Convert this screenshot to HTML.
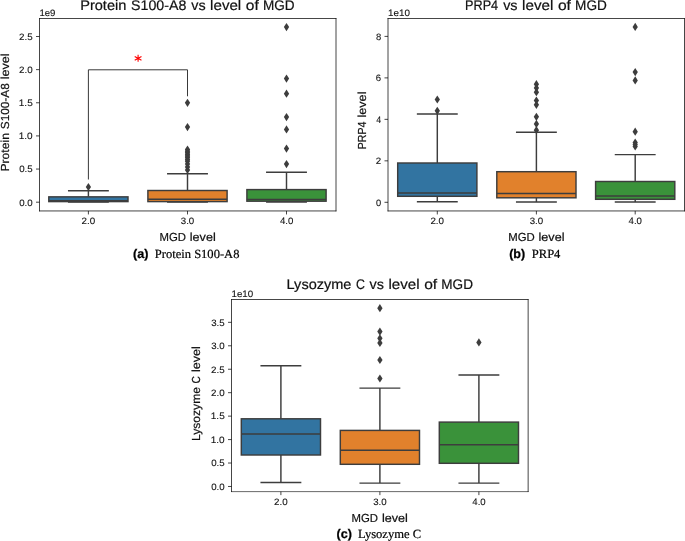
<!DOCTYPE html>
<html><head><meta charset="utf-8"><title>Figure</title>
<style>html,body{margin:0;padding:0;background:#fff;}svg{display:block;will-change:transform;}text{text-rendering:geometricPrecision;}</style></head><body>
<svg width="685" height="541" viewBox="0 0 685 541">
<rect width="685" height="541" fill="#fff"/>
<path d="M39.5 211.32999999999998V18.12" stroke="#0a0a0a" stroke-width="0.76"/>
<path d="M39.12 18.5H336.38" stroke="#0a0a0a" stroke-width="0.76"/>
<path d="M336.0 18.12V211.32999999999998" stroke="#0a0a0a" stroke-width="0.76"/>
<path d="M39.12 210.95H336.38" stroke="#0a0a0a" stroke-width="0.76"/>
<path d="M36.0 202.20H39.5" stroke="#0a0a0a" stroke-width="0.76"/>
<text x="19.19" y="205.55" font-family="Liberation Sans" font-size="9.33" fill="#111" textLength="13.50" lengthAdjust="spacingAndGlyphs" stroke="#111" stroke-width="0.1">0.0</text>
<path d="M36.0 169.06H39.5" stroke="#0a0a0a" stroke-width="0.76"/>
<text x="19.19" y="172.41" font-family="Liberation Sans" font-size="9.33" fill="#111" textLength="13.53" lengthAdjust="spacingAndGlyphs" stroke="#111" stroke-width="0.1">0.5</text>
<path d="M36.0 135.92H39.5" stroke="#0a0a0a" stroke-width="0.76"/>
<text x="18.78" y="139.27" font-family="Liberation Sans" font-size="9.33" fill="#111" textLength="13.92" lengthAdjust="spacingAndGlyphs" stroke="#111" stroke-width="0.1">1.0</text>
<path d="M36.0 102.78H39.5" stroke="#0a0a0a" stroke-width="0.76"/>
<text x="18.78" y="106.13" font-family="Liberation Sans" font-size="9.33" fill="#111" textLength="13.96" lengthAdjust="spacingAndGlyphs" stroke="#111" stroke-width="0.1">1.5</text>
<path d="M36.0 69.64H39.5" stroke="#0a0a0a" stroke-width="0.76"/>
<text x="19.06" y="72.99" font-family="Liberation Sans" font-size="9.33" fill="#111" textLength="13.63" lengthAdjust="spacingAndGlyphs" stroke="#111" stroke-width="0.1">2.0</text>
<path d="M36.0 36.50H39.5" stroke="#0a0a0a" stroke-width="0.76"/>
<text x="19.06" y="39.85" font-family="Liberation Sans" font-size="9.33" fill="#111" textLength="13.67" lengthAdjust="spacingAndGlyphs" stroke="#111" stroke-width="0.1">2.5</text>
<path d="M88.4 210.95V214.45" stroke="#0a0a0a" stroke-width="0.76"/>
<text x="81.53" y="224.35" font-family="Liberation Sans" font-size="9.33" fill="#111" textLength="13.63" lengthAdjust="spacingAndGlyphs" stroke="#111" stroke-width="0.1">2.0</text>
<path d="M187.5 210.95V214.45" stroke="#0a0a0a" stroke-width="0.76"/>
<text x="180.77" y="224.35" font-family="Liberation Sans" font-size="9.33" fill="#111" textLength="13.50" lengthAdjust="spacingAndGlyphs" stroke="#111" stroke-width="0.1">3.0</text>
<path d="M286.5 210.95V214.45" stroke="#0a0a0a" stroke-width="0.76"/>
<text x="279.90" y="224.35" font-family="Liberation Sans" font-size="9.33" fill="#111" textLength="13.36" lengthAdjust="spacingAndGlyphs" stroke="#111" stroke-width="0.1">4.0</text>
<text x="39.41" y="15.85" font-family="Liberation Sans" font-size="9.33" fill="#111" textLength="16.07" lengthAdjust="spacingAndGlyphs" stroke="#111" stroke-width="0.1">1e9</text>
<text x="80.18" y="9.80" font-family="Liberation Sans" font-size="13.99" fill="#111" textLength="46.21" lengthAdjust="spacingAndGlyphs" stroke="#111" stroke-width="0.2">Protein</text>
<text x="131.07" y="9.80" font-family="Liberation Sans" font-size="13.99" fill="#111" textLength="55.32" lengthAdjust="spacingAndGlyphs" stroke="#111" stroke-width="0.2">S100-A8</text>
<text x="191.25" y="9.80" font-family="Liberation Sans" font-size="13.99" fill="#111" textLength="14.34" lengthAdjust="spacingAndGlyphs" stroke="#111" stroke-width="0.2">vs</text>
<text x="210.13" y="9.80" font-family="Liberation Sans" font-size="13.99" fill="#111" textLength="31.11" lengthAdjust="spacingAndGlyphs" stroke="#111" stroke-width="0.2">level</text>
<text x="245.80" y="9.80" font-family="Liberation Sans" font-size="13.99" fill="#111" textLength="12.98" lengthAdjust="spacingAndGlyphs" stroke="#111" stroke-width="0.2">of</text>
<text x="262.93" y="9.80" font-family="Liberation Sans" font-size="13.99" fill="#111" textLength="31.64" lengthAdjust="spacingAndGlyphs" stroke="#111" stroke-width="0.2">MGD</text>
<text x="159.44" y="241.10" font-family="Liberation Sans" font-size="11.66" fill="#111" textLength="26.48" lengthAdjust="spacingAndGlyphs" stroke="#111" stroke-width="0.2">MGD</text>
<text x="189.76" y="241.10" font-family="Liberation Sans" font-size="11.66" fill="#111" textLength="26.03" lengthAdjust="spacingAndGlyphs" stroke="#111" stroke-width="0.2">level</text>
<text x="8.87" y="171.52" font-family="Liberation Sans" font-size="11.66" fill="#111" textLength="38.42" lengthAdjust="spacingAndGlyphs" transform="rotate(-90 8.87 171.52)" stroke="#111" stroke-width="0.2">Protein</text>
<text x="8.87" y="129.21" font-family="Liberation Sans" font-size="11.66" fill="#111" textLength="45.99" lengthAdjust="spacingAndGlyphs" transform="rotate(-90 8.87 129.21)" stroke="#111" stroke-width="0.2">S100-A8</text>
<text x="8.87" y="79.27" font-family="Liberation Sans" font-size="11.66" fill="#111" textLength="25.86" lengthAdjust="spacingAndGlyphs" transform="rotate(-90 8.87 79.27)" stroke="#111" stroke-width="0.2">level</text>
<path d="M88.4 179.5V69.8H187.5V96.3" stroke="#222" stroke-width="0.9" fill="none"/>
<path d="M138.10 54.85L138.10 61.85M134.72 56.40L141.48 60.30M141.48 56.40L134.72 60.30" stroke="#f00" stroke-width="1.1" fill="none"/>
<path d="M88.4 196.85V190.75M88.4 201.6V202.0M67.95 190.75H108.85M67.95 202.0H108.85" stroke="#3d3d3d" stroke-width="1.45" fill="none"/>
<rect x="48.80" y="196.85" width="79.20" height="4.75" fill="#3274a1" stroke="#3d3d3d" stroke-width="1.45"/>
<path d="M48.80 200.65H128.00" stroke="#3d3d3d" stroke-width="1.45"/>
<path d="M88.4 182.90L91.05 187.0L88.4 191.10L85.75 187.0Z" fill="#3d3d3d"/>
<path d="M187.5 190.5V173.8M187.5 201.6V202.0M167.05 173.8H207.95M167.05 202.0H207.95" stroke="#3d3d3d" stroke-width="1.45" fill="none"/>
<rect x="147.90" y="190.5" width="79.20" height="11.10" fill="#e1812c" stroke="#3d3d3d" stroke-width="1.45"/>
<path d="M147.90 199.2H227.10" stroke="#3d3d3d" stroke-width="1.45"/>
<path d="M187.5 98.70L190.15 102.8L187.5 106.90L184.85 102.8Z" fill="#3d3d3d"/>
<path d="M187.5 123.00L190.15 127.1L187.5 131.20L184.85 127.1Z" fill="#3d3d3d"/>
<path d="M187.5 145.50L190.15 149.6L187.5 153.70L184.85 149.6Z" fill="#3d3d3d"/>
<path d="M187.5 147.10L190.15 151.2L187.5 155.30L184.85 151.2Z" fill="#3d3d3d"/>
<path d="M187.5 148.70L190.15 152.8L187.5 156.90L184.85 152.8Z" fill="#3d3d3d"/>
<path d="M187.5 150.30L190.15 154.4L187.5 158.50L184.85 154.4Z" fill="#3d3d3d"/>
<path d="M187.5 151.90L190.15 156L187.5 160.10L184.85 156Z" fill="#3d3d3d"/>
<path d="M187.5 153.50L190.15 157.6L187.5 161.70L184.85 157.6Z" fill="#3d3d3d"/>
<path d="M187.5 155.40L190.15 159.5L187.5 163.60L184.85 159.5Z" fill="#3d3d3d"/>
<path d="M187.5 157.10L190.15 161.2L187.5 165.30L184.85 161.2Z" fill="#3d3d3d"/>
<path d="M187.5 159.90L190.15 164.0L187.5 168.10L184.85 164.0Z" fill="#3d3d3d"/>
<path d="M187.5 162.80L190.15 166.9L187.5 171.00L184.85 166.9Z" fill="#3d3d3d"/>
<path d="M187.5 165.90L190.15 170.0L187.5 174.10L184.85 170.0Z" fill="#3d3d3d"/>
<path d="M286.5 189.6V172.3M286.5 201.2V202.0M266.05 172.3H306.95M266.05 202.0H306.95" stroke="#3d3d3d" stroke-width="1.45" fill="none"/>
<rect x="246.90" y="189.6" width="79.20" height="11.60" fill="#3a923a" stroke="#3d3d3d" stroke-width="1.45"/>
<path d="M246.90 199.55H326.10" stroke="#3d3d3d" stroke-width="1.45"/>
<path d="M286.5 23.00L289.15 27.1L286.5 31.20L283.85 27.1Z" fill="#3d3d3d"/>
<path d="M286.5 74.50L289.15 78.6L286.5 82.70L283.85 78.6Z" fill="#3d3d3d"/>
<path d="M286.5 89.60L289.15 93.7L286.5 97.80L283.85 93.7Z" fill="#3d3d3d"/>
<path d="M286.5 113.00L289.15 117.1L286.5 121.20L283.85 117.1Z" fill="#3d3d3d"/>
<path d="M286.5 125.30L289.15 129.4L286.5 133.50L283.85 129.4Z" fill="#3d3d3d"/>
<path d="M286.5 144.50L289.15 148.6L286.5 152.70L283.85 148.6Z" fill="#3d3d3d"/>
<path d="M286.5 160.00L289.15 164.1L286.5 168.20L283.85 164.1Z" fill="#3d3d3d"/>
<text x="133.10" y="257.50" font-family="Liberation Sans" font-size="12.6" fill="#000" font-weight="bold" textLength="15.40" lengthAdjust="spacingAndGlyphs" stroke="#000" stroke-width="0.25">(a)</text>
<text x="154.80" y="257.50" font-family="Liberation Serif" font-size="12.5" fill="#000" textLength="84.60" lengthAdjust="spacingAndGlyphs" stroke="#000" stroke-width="0.2">Protein S100-A8</text>
<path d="M388.0 211.32999999999998V18.12" stroke="#0a0a0a" stroke-width="0.76"/>
<path d="M387.62 18.5H684.88" stroke="#0a0a0a" stroke-width="0.76"/>
<path d="M684.5 18.12V211.32999999999998" stroke="#0a0a0a" stroke-width="0.76"/>
<path d="M387.62 210.95H684.88" stroke="#0a0a0a" stroke-width="0.76"/>
<path d="M384.5 202.30H388.0" stroke="#0a0a0a" stroke-width="0.76"/>
<text x="376.01" y="205.65" font-family="Liberation Sans" font-size="9.33" fill="#111" textLength="5.16" lengthAdjust="spacingAndGlyphs" stroke="#111" stroke-width="0.1">0</text>
<path d="M384.5 160.83H388.0" stroke="#0a0a0a" stroke-width="0.76"/>
<text x="375.86" y="164.18" font-family="Liberation Sans" font-size="9.33" fill="#111" textLength="5.42" lengthAdjust="spacingAndGlyphs" stroke="#111" stroke-width="0.1">2</text>
<path d="M384.5 119.35H388.0" stroke="#0a0a0a" stroke-width="0.76"/>
<text x="376.14" y="122.70" font-family="Liberation Sans" font-size="9.33" fill="#111" textLength="4.92" lengthAdjust="spacingAndGlyphs" stroke="#111" stroke-width="0.1">4</text>
<path d="M384.5 77.88H388.0" stroke="#0a0a0a" stroke-width="0.76"/>
<text x="375.87" y="81.22" font-family="Liberation Sans" font-size="9.33" fill="#111" textLength="5.34" lengthAdjust="spacingAndGlyphs" stroke="#111" stroke-width="0.1">6</text>
<path d="M384.5 36.40H388.0" stroke="#0a0a0a" stroke-width="0.76"/>
<text x="375.94" y="39.75" font-family="Liberation Sans" font-size="9.33" fill="#111" textLength="5.27" lengthAdjust="spacingAndGlyphs" stroke="#111" stroke-width="0.1">8</text>
<path d="M437.3 210.95V214.45" stroke="#0a0a0a" stroke-width="0.76"/>
<text x="430.43" y="224.35" font-family="Liberation Sans" font-size="9.33" fill="#111" textLength="13.63" lengthAdjust="spacingAndGlyphs" stroke="#111" stroke-width="0.1">2.0</text>
<path d="M536.4 210.95V214.45" stroke="#0a0a0a" stroke-width="0.76"/>
<text x="529.67" y="224.35" font-family="Liberation Sans" font-size="9.33" fill="#111" textLength="13.50" lengthAdjust="spacingAndGlyphs" stroke="#111" stroke-width="0.1">3.0</text>
<path d="M635.2 210.95V214.45" stroke="#0a0a0a" stroke-width="0.76"/>
<text x="628.60" y="224.35" font-family="Liberation Sans" font-size="9.33" fill="#111" textLength="13.36" lengthAdjust="spacingAndGlyphs" stroke="#111" stroke-width="0.1">4.0</text>
<text x="388.09" y="15.85" font-family="Liberation Sans" font-size="9.33" fill="#111" textLength="21.93" lengthAdjust="spacingAndGlyphs" stroke="#111" stroke-width="0.1">1e10</text>
<text x="465.03" y="9.80" font-family="Liberation Sans" font-size="13.99" fill="#111" textLength="33.16" lengthAdjust="spacingAndGlyphs" stroke="#111" stroke-width="0.2">PRP4</text>
<text x="503.17" y="9.80" font-family="Liberation Sans" font-size="13.99" fill="#111" textLength="14.40" lengthAdjust="spacingAndGlyphs" stroke="#111" stroke-width="0.2">vs</text>
<text x="522.13" y="9.80" font-family="Liberation Sans" font-size="13.99" fill="#111" textLength="31.22" lengthAdjust="spacingAndGlyphs" stroke="#111" stroke-width="0.2">level</text>
<text x="557.92" y="9.80" font-family="Liberation Sans" font-size="13.99" fill="#111" textLength="13.03" lengthAdjust="spacingAndGlyphs" stroke="#111" stroke-width="0.2">of</text>
<text x="575.12" y="9.80" font-family="Liberation Sans" font-size="13.99" fill="#111" textLength="31.76" lengthAdjust="spacingAndGlyphs" stroke="#111" stroke-width="0.2">MGD</text>
<text x="508.19" y="241.10" font-family="Liberation Sans" font-size="11.66" fill="#111" textLength="26.48" lengthAdjust="spacingAndGlyphs" stroke="#111" stroke-width="0.2">MGD</text>
<text x="538.51" y="241.10" font-family="Liberation Sans" font-size="11.66" fill="#111" textLength="26.03" lengthAdjust="spacingAndGlyphs" stroke="#111" stroke-width="0.2">level</text>
<text x="366.20" y="149.30" font-family="Liberation Sans" font-size="11.66" fill="#111" textLength="27.67" lengthAdjust="spacingAndGlyphs" transform="rotate(-90 366.20 149.30)" stroke="#111" stroke-width="0.2">PRP4</text>
<text x="366.20" y="117.56" font-family="Liberation Sans" font-size="11.66" fill="#111" textLength="26.06" lengthAdjust="spacingAndGlyphs" transform="rotate(-90 366.20 117.56)" stroke="#111" stroke-width="0.2">level</text>
<path d="M437.3 163.0V114.0M437.3 196.3V201.8M416.85 114.0H457.75M416.85 201.8H457.75" stroke="#3d3d3d" stroke-width="1.45" fill="none"/>
<rect x="397.70" y="163.0" width="79.20" height="33.30" fill="#3274a1" stroke="#3d3d3d" stroke-width="1.45"/>
<path d="M397.70 193.0H476.90" stroke="#3d3d3d" stroke-width="1.45"/>
<path d="M437.3 95.40L439.95 99.5L437.3 103.60L434.65 99.5Z" fill="#3d3d3d"/>
<path d="M437.3 106.70L439.95 110.8L437.3 114.90L434.65 110.8Z" fill="#3d3d3d"/>
<path d="M536.4 171.7V132.2M536.4 197.8V201.9M515.95 132.2H556.85M515.95 201.9H556.85" stroke="#3d3d3d" stroke-width="1.45" fill="none"/>
<rect x="496.80" y="171.7" width="79.20" height="26.10" fill="#e1812c" stroke="#3d3d3d" stroke-width="1.45"/>
<path d="M496.80 193.5H576.00" stroke="#3d3d3d" stroke-width="1.45"/>
<path d="M536.4 80.10L539.05 84.2L536.4 88.30L533.75 84.2Z" fill="#3d3d3d"/>
<path d="M536.4 83.80L539.05 87.9L536.4 92.00L533.75 87.9Z" fill="#3d3d3d"/>
<path d="M536.4 88.10L539.05 92.2L536.4 96.30L533.75 92.2Z" fill="#3d3d3d"/>
<path d="M536.4 96.40L539.05 100.5L536.4 104.60L533.75 100.5Z" fill="#3d3d3d"/>
<path d="M536.4 100.70L539.05 104.8L536.4 108.90L533.75 104.8Z" fill="#3d3d3d"/>
<path d="M536.4 112.70L539.05 116.8L536.4 120.90L533.75 116.8Z" fill="#3d3d3d"/>
<path d="M536.4 119.80L539.05 123.9L536.4 128.00L533.75 123.9Z" fill="#3d3d3d"/>
<path d="M536.4 126.10L539.05 130.2L536.4 134.30L533.75 130.2Z" fill="#3d3d3d"/>
<path d="M635.2 181.5V154.6M635.2 199.3V201.9M614.75 154.6H655.65M614.75 201.9H655.65" stroke="#3d3d3d" stroke-width="1.45" fill="none"/>
<rect x="595.60" y="181.5" width="79.20" height="17.80" fill="#3a923a" stroke="#3d3d3d" stroke-width="1.45"/>
<path d="M595.60 195.9H674.80" stroke="#3d3d3d" stroke-width="1.45"/>
<path d="M635.2 22.80L637.85 26.9L635.2 31.00L632.55 26.9Z" fill="#3d3d3d"/>
<path d="M635.2 68.00L637.85 72.1L635.2 76.20L632.55 72.1Z" fill="#3d3d3d"/>
<path d="M635.2 76.30L637.85 80.4L635.2 84.50L632.55 80.4Z" fill="#3d3d3d"/>
<path d="M635.2 127.60L637.85 131.7L635.2 135.80L632.55 131.7Z" fill="#3d3d3d"/>
<path d="M635.2 138.40L637.85 142.5L635.2 146.60L632.55 142.5Z" fill="#3d3d3d"/>
<path d="M635.2 140.40L637.85 144.5L635.2 148.60L632.55 144.5Z" fill="#3d3d3d"/>
<path d="M635.2 142.40L637.85 146.5L635.2 150.60L632.55 146.5Z" fill="#3d3d3d"/>
<text x="509.20" y="257.50" font-family="Liberation Sans" font-size="12.6" fill="#000" font-weight="bold" textLength="16.00" lengthAdjust="spacingAndGlyphs" stroke="#000" stroke-width="0.25">(b)</text>
<text x="531.80" y="257.50" font-family="Liberation Serif" font-size="12.5" fill="#000" textLength="28.60" lengthAdjust="spacingAndGlyphs" stroke="#000" stroke-width="0.2">PRP4</text>
<path d="M231.5 492.0V299.12" stroke="#0a0a0a" stroke-width="0.76"/>
<path d="M231.12 299.5H528.53" stroke="#0a0a0a" stroke-width="0.76"/>
<path d="M528.15 299.12V492.0" stroke="#0a0a0a" stroke-width="0.76"/>
<path d="M231.12 491.62H528.53" stroke="#0a0a0a" stroke-width="0.62"/>
<path d="M228.0 486.47H231.5" stroke="#0a0a0a" stroke-width="0.76"/>
<text x="211.19" y="489.82" font-family="Liberation Sans" font-size="9.33" fill="#111" textLength="13.50" lengthAdjust="spacingAndGlyphs" stroke="#111" stroke-width="0.1">0.0</text>
<path d="M228.0 463.02H231.5" stroke="#0a0a0a" stroke-width="0.76"/>
<text x="211.19" y="466.37" font-family="Liberation Sans" font-size="9.33" fill="#111" textLength="13.53" lengthAdjust="spacingAndGlyphs" stroke="#111" stroke-width="0.1">0.5</text>
<path d="M228.0 439.58H231.5" stroke="#0a0a0a" stroke-width="0.76"/>
<text x="210.78" y="442.93" font-family="Liberation Sans" font-size="9.33" fill="#111" textLength="13.92" lengthAdjust="spacingAndGlyphs" stroke="#111" stroke-width="0.1">1.0</text>
<path d="M228.0 416.13H231.5" stroke="#0a0a0a" stroke-width="0.76"/>
<text x="210.78" y="419.48" font-family="Liberation Sans" font-size="9.33" fill="#111" textLength="13.96" lengthAdjust="spacingAndGlyphs" stroke="#111" stroke-width="0.1">1.5</text>
<path d="M228.0 392.68H231.5" stroke="#0a0a0a" stroke-width="0.76"/>
<text x="211.06" y="396.03" font-family="Liberation Sans" font-size="9.33" fill="#111" textLength="13.63" lengthAdjust="spacingAndGlyphs" stroke="#111" stroke-width="0.1">2.0</text>
<path d="M228.0 369.24H231.5" stroke="#0a0a0a" stroke-width="0.76"/>
<text x="211.06" y="372.59" font-family="Liberation Sans" font-size="9.33" fill="#111" textLength="13.67" lengthAdjust="spacingAndGlyphs" stroke="#111" stroke-width="0.1">2.5</text>
<path d="M228.0 345.79H231.5" stroke="#0a0a0a" stroke-width="0.76"/>
<text x="211.19" y="349.14" font-family="Liberation Sans" font-size="9.33" fill="#111" textLength="13.50" lengthAdjust="spacingAndGlyphs" stroke="#111" stroke-width="0.1">3.0</text>
<path d="M228.0 322.34H231.5" stroke="#0a0a0a" stroke-width="0.76"/>
<text x="211.19" y="325.69" font-family="Liberation Sans" font-size="9.33" fill="#111" textLength="13.53" lengthAdjust="spacingAndGlyphs" stroke="#111" stroke-width="0.1">3.5</text>
<path d="M280.9 491.62V495.12" stroke="#0a0a0a" stroke-width="0.76"/>
<text x="274.03" y="505.02" font-family="Liberation Sans" font-size="9.33" fill="#111" textLength="13.63" lengthAdjust="spacingAndGlyphs" stroke="#111" stroke-width="0.1">2.0</text>
<path d="M379.9 491.62V495.12" stroke="#0a0a0a" stroke-width="0.76"/>
<text x="373.17" y="505.02" font-family="Liberation Sans" font-size="9.33" fill="#111" textLength="13.50" lengthAdjust="spacingAndGlyphs" stroke="#111" stroke-width="0.1">3.0</text>
<path d="M478.9 491.62V495.12" stroke="#0a0a0a" stroke-width="0.76"/>
<text x="472.30" y="505.02" font-family="Liberation Sans" font-size="9.33" fill="#111" textLength="13.36" lengthAdjust="spacingAndGlyphs" stroke="#111" stroke-width="0.1">4.0</text>
<text x="231.50" y="296.85" font-family="Liberation Sans" font-size="9.33" fill="#111" textLength="21.72" lengthAdjust="spacingAndGlyphs" stroke="#111" stroke-width="0.1">1e10</text>
<text x="286.59" y="288.90" font-family="Liberation Sans" font-size="13.99" fill="#111" textLength="64.88" lengthAdjust="spacingAndGlyphs" stroke="#111" stroke-width="0.2">Lysozyme</text>
<text x="355.89" y="288.90" font-family="Liberation Sans" font-size="13.99" fill="#111" textLength="8.89" lengthAdjust="spacingAndGlyphs" stroke="#111" stroke-width="0.2">C</text>
<text x="369.60" y="288.90" font-family="Liberation Sans" font-size="13.99" fill="#111" textLength="14.35" lengthAdjust="spacingAndGlyphs" stroke="#111" stroke-width="0.2">vs</text>
<text x="388.50" y="288.90" font-family="Liberation Sans" font-size="13.99" fill="#111" textLength="31.12" lengthAdjust="spacingAndGlyphs" stroke="#111" stroke-width="0.2">level</text>
<text x="424.18" y="288.90" font-family="Liberation Sans" font-size="13.99" fill="#111" textLength="12.98" lengthAdjust="spacingAndGlyphs" stroke="#111" stroke-width="0.2">of</text>
<text x="441.32" y="288.90" font-family="Liberation Sans" font-size="13.99" fill="#111" textLength="31.66" lengthAdjust="spacingAndGlyphs" stroke="#111" stroke-width="0.2">MGD</text>
<text x="351.59" y="521.77" font-family="Liberation Sans" font-size="11.66" fill="#111" textLength="26.48" lengthAdjust="spacingAndGlyphs" stroke="#111" stroke-width="0.2">MGD</text>
<text x="381.91" y="521.77" font-family="Liberation Sans" font-size="11.66" fill="#111" textLength="26.03" lengthAdjust="spacingAndGlyphs" stroke="#111" stroke-width="0.2">level</text>
<text x="200.40" y="441.02" font-family="Liberation Sans" font-size="11.66" fill="#111" textLength="53.95" lengthAdjust="spacingAndGlyphs" transform="rotate(-90 200.40 441.02)" stroke="#111" stroke-width="0.2">Lysozyme</text>
<text x="200.40" y="383.39" font-family="Liberation Sans" font-size="11.66" fill="#111" textLength="7.39" lengthAdjust="spacingAndGlyphs" transform="rotate(-90 200.40 383.39)" stroke="#111" stroke-width="0.2">C</text>
<text x="200.40" y="372.09" font-family="Liberation Sans" font-size="11.66" fill="#111" textLength="25.88" lengthAdjust="spacingAndGlyphs" transform="rotate(-90 200.40 372.09)" stroke="#111" stroke-width="0.2">level</text>
<path d="M280.9 418.8V365.7M280.9 455.0V482.4M260.45 365.7H301.35M260.45 482.4H301.35" stroke="#3d3d3d" stroke-width="1.45" fill="none"/>
<rect x="241.30" y="418.8" width="79.20" height="36.20" fill="#3274a1" stroke="#3d3d3d" stroke-width="1.45"/>
<path d="M241.30 433.9H320.50" stroke="#3d3d3d" stroke-width="1.45"/>
<path d="M379.9 430.4V388.1M379.9 464.3V483.1M359.45 388.1H400.35M359.45 483.1H400.35" stroke="#3d3d3d" stroke-width="1.45" fill="none"/>
<rect x="340.30" y="430.4" width="79.20" height="33.90" fill="#e1812c" stroke="#3d3d3d" stroke-width="1.45"/>
<path d="M340.30 450.2H419.50" stroke="#3d3d3d" stroke-width="1.45"/>
<path d="M379.9 304.10L382.55 308.2L379.9 312.30L377.25 308.2Z" fill="#3d3d3d"/>
<path d="M379.9 327.50L382.55 331.6L379.9 335.70L377.25 331.6Z" fill="#3d3d3d"/>
<path d="M379.9 334.20L382.55 338.3L379.9 342.40L377.25 338.3Z" fill="#3d3d3d"/>
<path d="M379.9 338.80L382.55 342.9L379.9 347.00L377.25 342.9Z" fill="#3d3d3d"/>
<path d="M379.9 355.90L382.55 360L379.9 364.10L377.25 360Z" fill="#3d3d3d"/>
<path d="M379.9 374.40L382.55 378.5L379.9 382.60L377.25 378.5Z" fill="#3d3d3d"/>
<path d="M478.9 422.1V375.0M478.9 463.3V483.1M458.45 375.0H499.35M458.45 483.1H499.35" stroke="#3d3d3d" stroke-width="1.45" fill="none"/>
<rect x="439.30" y="422.1" width="79.20" height="41.20" fill="#3a923a" stroke="#3d3d3d" stroke-width="1.45"/>
<path d="M439.30 444.7H518.50" stroke="#3d3d3d" stroke-width="1.45"/>
<path d="M478.9 338.30L481.55 342.4L478.9 346.50L476.25 342.4Z" fill="#3d3d3d"/>
<text x="336.60" y="538.00" font-family="Liberation Sans" font-size="12.6" fill="#000" font-weight="bold" textLength="15.40" lengthAdjust="spacingAndGlyphs" stroke="#000" stroke-width="0.25">(c)</text>
<text x="357.90" y="538.00" font-family="Liberation Serif" font-size="12.5" fill="#000" textLength="63.20" lengthAdjust="spacingAndGlyphs" stroke="#000" stroke-width="0.2">Lysozyme C</text>
</svg></body></html>
